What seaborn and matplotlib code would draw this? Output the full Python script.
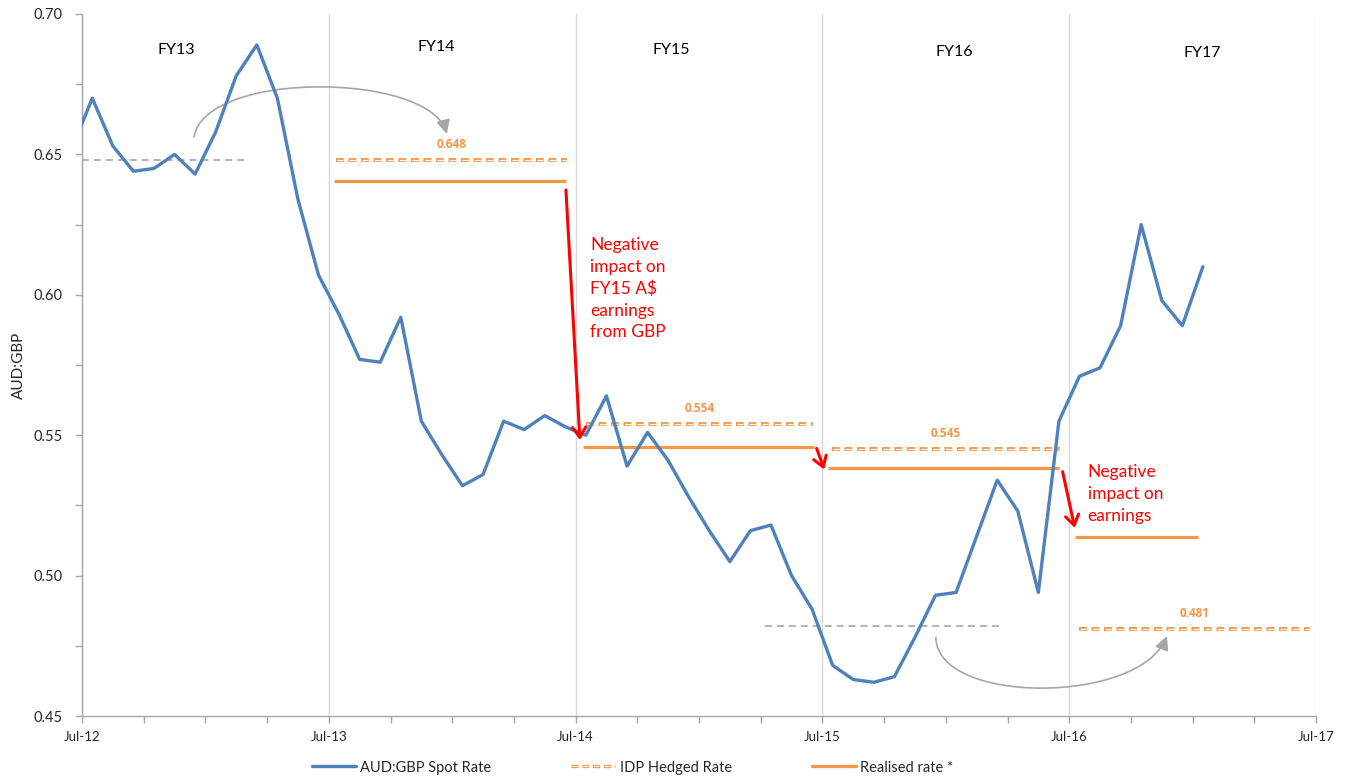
import numpy as np
import pandas as pd
import matplotlib
matplotlib.use('Agg')
import matplotlib.pyplot as plt
import seaborn as sns
from matplotlib.patches import FancyArrowPatch
from matplotlib.path import Path
from matplotlib.lines import Line2D
from matplotlib.ticker import FixedLocator, MultipleLocator, FuncFormatter

# ---------------- data ----------------
# monthly points, month index counted from Jul-12 (points sit mid-month)
month_index = list(range(-1, 55))
spot_rate = [0.652, 0.670, 0.653, 0.644, 0.645, 0.650, 0.643, 0.658, 0.678, 0.689,
             0.670, 0.634, 0.607, 0.593, 0.577, 0.576, 0.592, 0.555, 0.543, 0.532,
             0.536, 0.555, 0.552, 0.557, 0.553, 0.550, 0.564, 0.539, 0.551, 0.541,
             0.528, 0.516, 0.505, 0.516, 0.518, 0.500, 0.488, 0.468, 0.463, 0.462,
             0.464, 0.478, 0.493, 0.494, 0.514, 0.534, 0.523, 0.494, 0.555, 0.571,
             0.574, 0.589, 0.625, 0.598, 0.589, 0.610]
tick_labels = ['Jul-12', 'Jul-13', 'Jul-14', 'Jul-15', 'Jul-16', 'Jul-17']
fy_labels = ['FY13', 'FY14', 'FY15', 'FY16', 'FY17']
hedged_rates = [0.648, 0.554, 0.545, 0.481]
hedged_labels = ['0.648', '0.554', '0.545', '0.481']
hedged_start = [12.35, 24.5, 36.45, 48.48]
hedged_end = [23.58, 35.54, 47.57, 59.7]
realised_rates = [0.6405, 0.5459, 0.5384, 0.5139]
realised_start = [12.25, 24.37, 36.28, 48.27]
realised_end = [23.53, 35.6, 47.5, 54.24]
prior_rates = [0.648, 0.482]
prior_start = [0.0, 33.2]
prior_end = [8.07, 44.6]
series_names = ['AUD:GBP Spot Rate', 'IDP Hedged Rate', 'Realised rate *']
note_fy15 = ['Negative', 'impact on', 'FY15 A$', 'earnings', 'from GBP']
note_fy17 = ['Negative', 'impact on', 'earnings']

df = pd.DataFrame({'month': np.array(month_index) + 0.5, 'spot': spot_rate})

# ---------------- style ----------------
sns.set_theme(style='white')
plt.rcParams['font.family'] = ['Lato', 'DejaVu Sans']
plt.rcParams['lines.scale_dashes'] = False

BLUE = '#4F81BD'
ORANGE = '#F79646'
GRAY = '#A6A6A6'
RED = '#FF0000'
TXT = '#262626'

fig = plt.figure(figsize=(13.46, 7.8), dpi=100)
ax = fig.add_axes([82 / 1346, 64 / 780, 1234 / 1346, 702 / 780])

sns.lineplot(data=df, x='month', y='spot', ax=ax, color=BLUE, lw=2.4,
             zorder=6, legend=False)

ax.set_xlim(0, 60)
ax.set_ylim(0.45, 0.70)

# hedged rate (outlined dashes) lines and labels
for r, s, e, lab in zip(hedged_rates, hedged_start, hedged_end, hedged_labels):
    ax.plot([s, e], [r, r], color=ORANGE, lw=2.8, linestyle=(0, (5.6, 3.4)),
            dash_capstyle='butt', zorder=4)
    ax.plot([s, e], [r, r], color='white', lw=0.9, linestyle=(-0.7, (4.2, 4.8)),
            dash_capstyle='butt', zorder=4.5)
    ax.text((s + e) / 2, r + 0.0033, lab, color=ORANGE, fontsize=8.5,
            fontweight='bold', family=['Open Sans', 'DejaVu Sans'],
            ha='center', va='bottom')

# realised rate lines
for r, s, e in zip(realised_rates, realised_start, realised_end):
    ax.plot([s, e], [r, r], color=ORANGE, lw=2.3, solid_capstyle='butt', zorder=4)

# prior-year hedged rate (grey dashed)
for r, s, e in zip(prior_rates, prior_start, prior_end):
    ax.plot([s, e], [r, r], color=GRAY, lw=1.2, linestyle=(0, (5, 3.6)), zorder=3)

# FY labels
fy_x = [4.57, 17.21, 28.63, 42.39, 54.45]
fy_y = [0.6872, 0.6882, 0.6872, 0.6865, 0.6861]
for x, y, t in zip(fy_x, fy_y, fy_labels):
    ax.text(x, y, t, fontsize=11.5, color='black', ha='center', va='center')

# red arrows
for (x0, y0), (x1, y1) in [((23.53, 0.6373), (24.21, 0.5483)),
                           ((35.72, 0.5453), (36.09, 0.5378)),
                           ((47.68, 0.5370), (48.27, 0.5170))]:
    ax.add_patch(FancyArrowPatch((x0, y0), (x1, y1),
                                 arrowstyle='->,head_length=0.45,head_width=0.3',
                                 mutation_scale=16, color=RED, lw=2.2, zorder=7,
                                 shrinkA=0, shrinkB=0))

# red notes, one text per line so every line is left-aligned
line_step = 0.0078
for i, t in enumerate(note_fy15):
    ax.text(24.7, 0.6178 - i * line_step, t, color=RED, fontsize=12.5,
            ha='left', va='center')
for i, t in enumerate(note_fy17):
    ax.text(48.9, 0.5370 - i * line_step, t, color=RED, fontsize=12.5,
            ha='left', va='center')

# grey curved arrows
arc1 = Path([(5.445, 0.6562), (5.98, 0.6801), (16.92, 0.6793), (17.74, 0.6573)],
            [Path.MOVETO, Path.CURVE4, Path.CURVE4, Path.CURVE4])
arc2 = Path([(41.52, 0.4781), (41.52, 0.4539), (51.43, 0.4539), (52.75, 0.4785)],
            [Path.MOVETO, Path.CURVE4, Path.CURVE4, Path.CURVE4])
for p in (arc1, arc2):
    ax.add_patch(FancyArrowPatch(path=p, arrowstyle='-|>,head_length=0.6,head_width=0.3',
                                 mutation_scale=14, color=GRAY, lw=1.2, zorder=3,
                                 transform=ax.transData))

# axes formatting
ax.xaxis.set_major_locator(FixedLocator([0, 12, 24, 36, 48, 60]))
ax.set_xticklabels(tick_labels)
ax.xaxis.set_minor_locator(MultipleLocator(3))
ax.yaxis.set_major_locator(MultipleLocator(0.05))
ax.yaxis.set_minor_locator(MultipleLocator(0.025))
ax.yaxis.set_major_formatter(FuncFormatter(lambda v, p: f'{v:.2f}'))
ax.tick_params(axis='x', which='both', direction='out', length=5, width=1,
               color=GRAY, labelsize=9.5, labelcolor=TXT, pad=6, bottom=True)
ax.tick_params(axis='y', which='both', direction='out', length=5, width=1,
               color=GRAY, labelsize=10.5, labelcolor=TXT, pad=9, left=True)
ax.grid(axis='x', which='major', color='#D9D9D9', lw=1)
ax.grid(axis='y', visible=False)
for sp in ['top', 'right']:
    ax.spines[sp].set_visible(False)
for sp in ['left', 'bottom']:
    ax.spines[sp].set_color(GRAY)
    ax.spines[sp].set_linewidth(1)
ax.set_xlabel('')
ax.set_ylabel('AUD:GBP', fontsize=11, color=TXT)
ax.yaxis.set_label_coords(-0.0454, 0.5)

# legend
h1 = Line2D([], [], color=BLUE, lw=2.4)
h2a = Line2D([], [], color=ORANGE, lw=2.4, linestyle=(0, (5.0, 2.8)))
h2b = Line2D([], [], color='white', lw=0.8, linestyle=(-0.6, (3.8, 4.0)))
h3 = Line2D([], [], color=ORANGE, lw=2.4)
fig.legend([h1, (h2a, h2b), h3], series_names, loc='center',
           bbox_to_anchor=(0.47, 0.016), ncol=3, frameon=False, fontsize=10.5,
           handlelength=3.0, columnspacing=5.5, handletextpad=0.3,
           labelcolor=TXT)

fig.savefig('out.png', dpi=100)
